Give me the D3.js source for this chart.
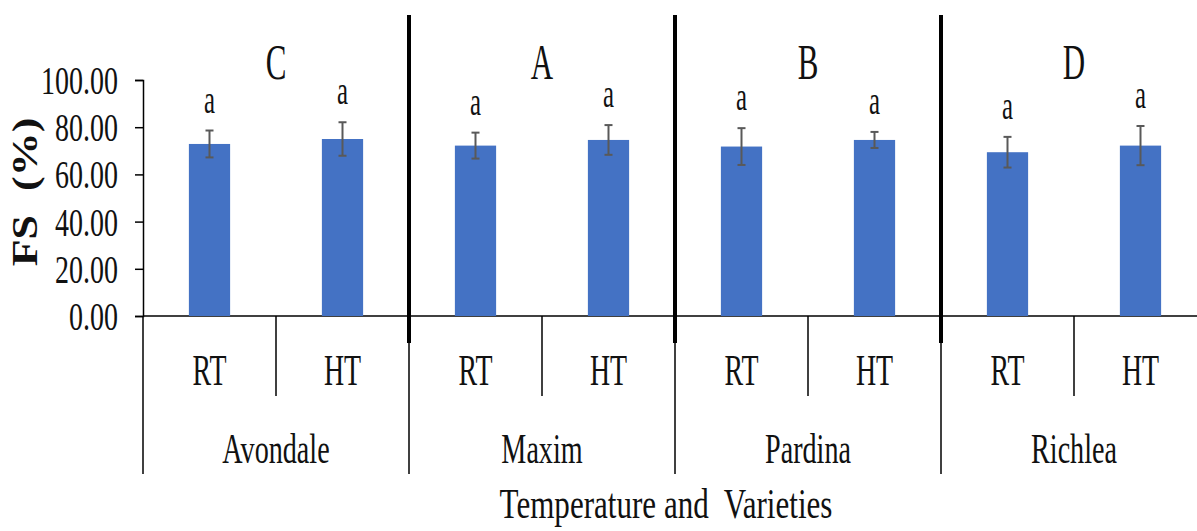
<!DOCTYPE html>
<html>
<head>
<meta charset="utf-8">
<script src="https://cdn.jsdelivr.net/npm/d3@7"></script>
<style>
  body { margin: 0; background: #fff; }
</style>
</head>
<body>
<svg id="chart"></svg>
<script>
// data
const varieties = ["Avondale", "Maxim", "Pardina", "Richlea"];
const temps = ["RT", "HT"];
const groupLetters = ["C", "A", "B", "D"];
const meanRT = [72.9, 72.2, 71.8, 69.4];
const meanHT = [75.0, 74.6, 74.6, 72.2];
const errRT = [5.7, 5.5, 7.8, 6.5];
const errHT = [7.1, 6.3, 3.4, 8.3];
const sigLetters = ["a", "a", "a", "a", "a", "a", "a", "a"];
const yTicks = [0, 20, 40, 60, 80, 100];

const rows = [];
varieties.forEach((v, i) => {
  rows.push({variety: v, temp: "RT", mean: meanRT[i], err: errRT[i]});
  rows.push({variety: v, temp: "HT", mean: meanHT[i], err: errHT[i]});
});
rows.forEach((d, i) => d.sig = sigLetters[i]);

var FONT = "'Liberation Serif', 'Times New Roman', Times, serif";
var width = 1197, height = 531;
var svg = d3.select("#chart").attr("width", width).attr("height", height);

var left = 143, groupW = 266;
var x0 = d3.scaleBand().domain(varieties).range([left, left + groupW * varieties.length]);
var x1 = d3.scaleBand().domain(temps).range([0, x0.bandwidth()]);
var y = d3.scaleLinear().domain([0, 100]).range([316, 80]);
var barW = x1.bandwidth() * 0.31;

// squeezed serif text, like the stretched picture
function label(g, txt, x, yy, size, sx, anchor) {
  return g.append("text")
    .attr("transform", "translate(" + x + "," + yy + ") scale(" + sx + ",1)")
    .attr("text-anchor", anchor || "middle")
    .attr("font-family", FONT)
    .attr("fill", "#111")
    .style("font-size", size + "px")
    .text(txt);
}

// y axis
var yAxis = svg.append("g")
  .attr("transform", "translate(" + left + ",0)")
  .call(d3.axisLeft(y).tickValues(yTicks).tickSize(8).tickFormat(d3.format(".2f")));
yAxis.selectAll("path, line").attr("stroke", "#000").attr("stroke-width", 1.5);
yAxis.selectAll("text").remove();
yTicks.forEach(t => label(svg, d3.format(".2f")(t), 118, y(t) + 14, 40, 0.7, "end"));

// x baseline
svg.append("line")
  .attr("x1", left).attr("x2", width)
  .attr("y1", y(0)).attr("y2", y(0))
  .attr("stroke", "#000").attr("stroke-width", 1.5);

// bars
svg.selectAll("rect.bar").data(rows).enter().append("rect")
  .attr("class", "bar")
  .attr("x", d => x0(d.variety) + x1(d.temp) + (x1.bandwidth() - barW) / 2)
  .attr("width", barW)
  .attr("y", d => y(d.mean))
  .attr("height", d => y(0) - y(d.mean))
  .attr("fill", "#4472C4");

// error bars
var cx = d => x0(d.variety) + x1(d.temp) + x1.bandwidth() / 2;
var eb = svg.selectAll("g.err").data(rows).enter().append("g")
  .attr("stroke", "#595959").attr("stroke-width", 2);
eb.append("line").attr("x1", cx).attr("x2", cx)
  .attr("y1", d => y(d.mean + d.err)).attr("y2", d => y(d.mean - d.err));
eb.append("line").attr("x1", d => cx(d) - 4).attr("x2", d => cx(d) + 4)
  .attr("y1", d => y(d.mean + d.err)).attr("y2", d => y(d.mean + d.err));
eb.append("line").attr("x1", d => cx(d) - 4).attr("x2", d => cx(d) + 4)
  .attr("y1", d => y(d.mean - d.err)).attr("y2", d => y(d.mean - d.err));

// significance letters
rows.forEach(d => label(svg, d.sig, cx(d), y(d.mean + d.err) - 18, 40, 0.62));

// group letters
varieties.forEach((v, i) =>
  label(svg, groupLetters[i], x0(v) + x0.bandwidth() / 2, 79, 50, 0.62));

// thick separators between groups
varieties.slice(1).forEach(v => {
  svg.append("line")
    .attr("x1", x0(v)).attr("x2", x0(v))
    .attr("y1", 15).attr("y2", 343)
    .attr("stroke", "#000").attr("stroke-width", 4);
});

// category tick lines below the axis
varieties.forEach(v => {
  svg.append("line")
    .attr("x1", x0(v)).attr("x2", x0(v))
    .attr("y1", y(0)).attr("y2", 474)
    .attr("stroke", "#000").attr("stroke-width", 1.5);
  svg.append("line")
    .attr("x1", x0(v) + x1("HT")).attr("x2", x0(v) + x1("HT"))
    .attr("y1", y(0)).attr("y2", 396)
    .attr("stroke", "#000").attr("stroke-width", 1.5);
  temps.forEach(t => label(svg, t, x0(v) + x1(t) + x1.bandwidth() / 2, 385, 45, 0.62));
  label(svg, v, x0(v) + x0.bandwidth() / 2, 463, 42, 0.67);
});

// axis titles
label(svg, "Temperature and  Varieties", 666, 518, 42, 0.74)
  .style("white-space", "pre");

var yt = svg.append("text")
  .attr("transform", "translate(37,192) scale(0.8,1) rotate(-90)")
  .attr("text-anchor", "middle")
  .attr("font-family", FONT)
  .attr("fill", "#111")
  .style("font-size", "44px")
  .style("font-weight", "bold");
yt.append("tspan").text("FS");
yt.append("tspan").attr("dx", 24).text("(%)");
</script>
</body>
</html>
